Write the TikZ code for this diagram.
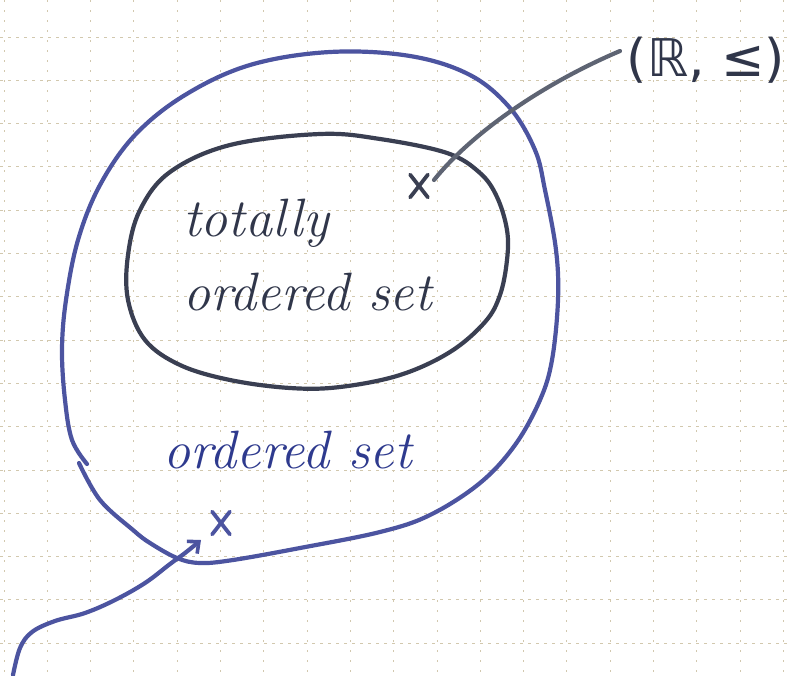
\documentclass[tikz,border=0pt]{standalone}
\usepackage{fontspec}
\newfontfamily\dejavu{DejaVu Sans}
\usetikzlibrary{arrows.meta,shapes.misc}
\definecolor{penblue}{HTML}{4C54A0}
\definecolor{pendark}{HTML}{3A3F52}
\definecolor{penslate}{HTML}{5E6473}
\definecolor{textnavy}{HTML}{2E3A8E}
\definecolor{textdark}{HTML}{30364A}
\definecolor{gridc}{HTML}{D2C8AE}
\begin{document}
\begin{tikzpicture}[x=1pt,y=-1pt,
  pen/.style={line width=4.2pt, line cap=round, line join=round},
  vgrid/.style={gridc, line width=0.9pt, dash pattern=on 1.5pt off 8.5pt},
  hgrid/.style={gridc, line width=1pt, dash pattern=on 3pt off 5pt},
  hand/.style={font=\fontsize{54}{64}\selectfont\itshape, inner sep=0pt},
  xmark/.style={cross out, draw, line width=3.8pt, line cap=round, minimum width=14pt, minimum height=19pt, inner sep=0pt}]
\fill[white] (0,0) rectangle (789,675);
\useasboundingbox (0,0) rectangle (789,675);
% grid paper
\foreach \i in {0,...,18} \draw[vgrid] ({4+43.3*\i},0) -- ({4+43.3*\i},675);
\foreach \j in {0,...,14} \draw[hgrid] (0,{37+43.3*\j}) -- (789,{37+43.3*\j});
% outer set (ordered set)
\draw[pen, penblue] plot[smooth, tension=0.6] coordinates {(87,464) (72,440) (65,400) (62,350) (66,300) (78,240) (100,185) (135,135) (185,95) (250,65) (330,52) (410,56) (470,75) (510,108) (535,150) (545,190) (556,250) (558,300) (552,360) (540,400) (515,445) (480,483) (430,515) (380,532) (300,548) (233,560) (200,563) (177,558) (150,543) (133,530) (100,500) (79,463)};
% inner set (totally ordered set)
\draw[pen, pendark] plot[smooth cycle, tension=0.6] coordinates {(320,134) (380,139) (447,153) (480,173) (497,197) (507,230) (507,260) (500,295) (485,322) (450,352) (400,375) (340,387) (290,388) (230,380) (180,365) (145,340) (128,300) (128,255) (140,210) (170,172) (230,145)};
% texts
\node[hand, text=textdark, anchor=base west] (t1) at (183,236) {totally};
\node[hand, text=textdark, anchor=base west] (t2) at (183,310) {ordered set};
\node[hand, text=textnavy, anchor=base west] (t3) at (163,468) {ordered set};
\node[font=\dejavu\fontsize{52}{62}\selectfont, text=textdark, inner sep=0pt] (lbl) at (706,60) {(ℝ, ≤)};
% elements
\node[xmark, draw=pendark] (x1) at (419,186) {};
\node[xmark, draw=penblue] (x2) at (221,523) {};
% connectors
\coordinate (a1) at (620,51);
\coordinate (a2) at (434,180);
\draw[pen, penslate] (a1) .. controls (540,85) and (470,135) .. (a2);
\coordinate (b1) at (13,675);
\coordinate (b2) at (201,540);
\draw[pen, penblue, -{Straight Barb[length=9pt, width=16pt, line width=3.6pt]}] plot[smooth, tension=0.6] coordinates {(b1) (20,648) (32,632) (55,621) (85,613) (115,600) (145,583) (170,564) (185,553) (b2)};
\end{tikzpicture}
\end{document}
